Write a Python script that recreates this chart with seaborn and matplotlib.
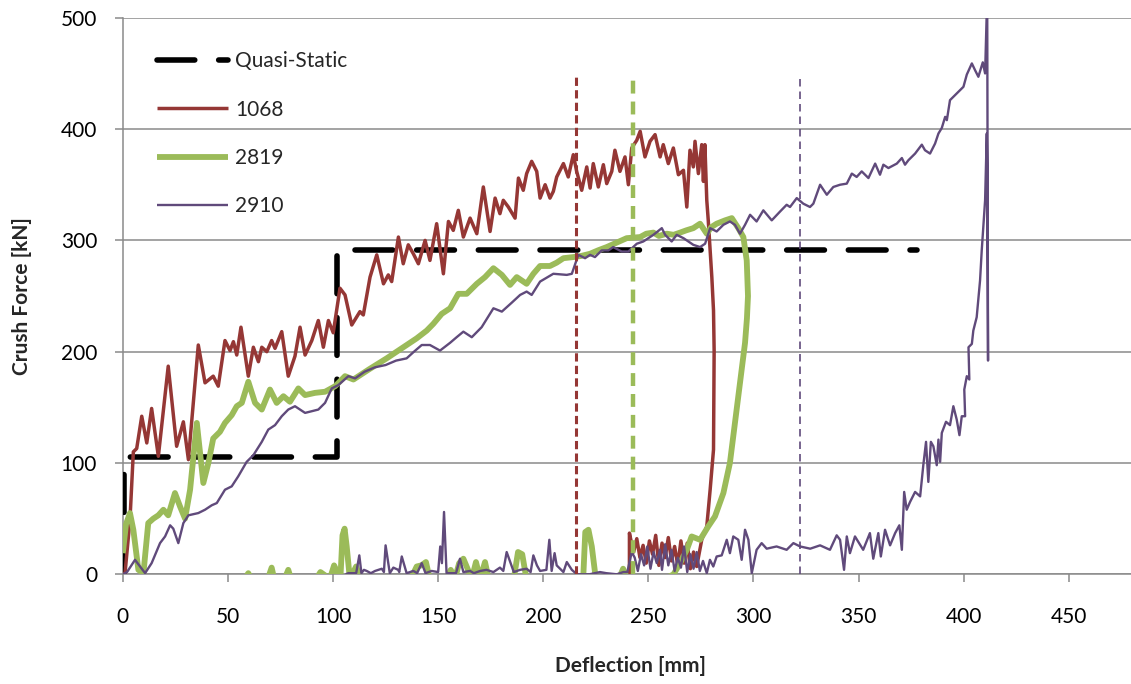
import numpy as np
import pandas as pd
import matplotlib
matplotlib.use("Agg")
import matplotlib.pyplot as plt
import seaborn as sns

# ---------------- data ----------------
quasi_x = [0.4, 0.4, 102.0, 102.0, 378.0]
quasi_y = [0, 105, 105, 291, 291]

r1068_x = [0, 1, 3.4, 5, 6.6, 9, 11.4, 13.7, 16.9, 21.6, 25.6, 28.8, 31.2, 35.9, 39.1, 43, 45.4,
           48.6, 51, 52.6, 54.2, 56.2, 59.7, 62.1, 64.5, 66.1, 68.5, 70.8, 72.4, 75.6, 78.7, 81.9,
           84.3, 86.7, 89.9, 93, 95.4, 97.8, 100.1, 103.3, 105.7, 108.9, 112.8, 114.4, 117.6, 120.8,
           124, 126.3, 127.9, 131.1, 133.4, 135.8, 138.2, 140.6, 143.8, 146.1, 149.3, 152.5, 154.9,
           157.2, 159.6, 162, 165.2, 168.4, 171.5, 174.7, 177.1, 179.4, 181, 183.4, 186.6, 188.2,
           190.5, 192.1, 194.5, 196.9, 198.5, 200.9, 203.2, 204.8, 206.4, 209.6, 211.9, 214.3, 215.9,
           218.3, 220.7, 222.3, 223.8, 226.2, 228.6, 230.2, 232.6, 234.1, 236.5, 238.9, 240.5, 242.1,
           244.5, 246.1, 248.4, 250.8, 253.2, 255.6, 257.1, 259.5, 261.9, 264.3, 266.7, 268.3, 269.8,
           271.4, 272.2, 273.8, 275.4, 276.2, 276.9, 277.8, 278.5, 280.2, 281, 281.3, 281, 279.4,
           277.8, 275.4, 273, 271.5, 270, 268.5, 267, 265.5, 264, 262.5, 261, 259.5, 258, 256.5,
           255, 253.5, 252, 250.5, 249, 247.5, 246, 244.5, 243, 242, 241, 241]
r1068_y = [0, 0, 49, 110, 113, 142, 118, 149, 106, 187, 115, 137, 103, 206, 172, 178, 169,
           210, 201, 209, 197, 222, 178, 204, 191, 204, 200, 210, 203, 218, 178, 196,
           222, 197, 210, 228, 204, 228, 217, 257, 251, 224, 236, 233, 267, 287,
           261, 269, 263, 303, 279, 296, 288, 279, 300, 282, 315, 270, 317,
           309, 327, 303, 320, 306, 348, 308, 338, 324, 336, 330, 320, 356,
           345, 360, 371, 362, 338, 350, 338, 344, 357, 369, 357, 377, 362,
           345, 366, 347, 369, 348, 368, 351, 362, 381, 362, 375, 350, 383,
           390, 398, 375, 389, 395, 375, 386, 369, 383, 359, 363, 330, 381,
           366, 389, 360, 386, 353, 386, 336, 318, 267, 237, 201, 112, 76,
           43, 31, 7, 20, 5, 28, 10, 30, 8, 25, 12, 33, 15, 28,
           8, 35, 18, 30, 10, 26, 15, 32, 20, 28, 37, 0]

g2819_x = [0, 1.5, 3.4, 5, 7.4, 9.8, 12.1, 14.5, 16.9, 19.3, 21.6, 24.8, 27.2, 29.6, 32, 35.2,
           38.3, 40.7, 43, 46.2, 48.6, 51.8, 54.2, 56.6, 59.7, 62.9, 66.1, 70, 73.2, 76.4, 79.5,
           83.5, 86.7, 91.4, 96.2, 101, 105.7, 109.7, 117, 125.5, 133.4, 139.8, 144.6, 147.7, 151.7,
           155.7, 159.6, 163.6, 168.4, 172.3, 176.3, 180.3, 184.2, 187.4, 192.1, 195.3, 198.5, 203.2,
           206.4, 209.6, 214.3, 218, 222.3, 226, 230.2, 235, 239.7, 246.1, 249, 252.4, 255, 258.8,
           262, 265.1, 268, 271.4, 274.6, 277.8, 280, 282.5, 286.5, 289.7, 292.8, 295.2, 296.8,
           297.4, 296.9, 296, 293.6, 291.2, 288.8, 285.7, 281.7, 278.5, 274.6, 270.6, 268.3, 265.1,
           262, 258, 245, 240, 238, 236, 225, 223.1, 221.5, 220, 219, 192, 190, 188, 186, 174,
           172.3, 170, 168, 166, 162, 160, 158, 156, 154, 146, 144.2, 142, 139.8, 137, 113, 111,
           108, 106.5, 105.5, 104.5, 103.5, 100.5, 98.5, 94, 92, 80, 78.7, 77, 72, 70.8, 69, 61,
           59.7, 58, 50]
g2819_y = [19, 45, 55, 40, 4, 1, 46, 50, 53, 58, 53, 73, 61, 50, 76, 136,
           82, 100, 122, 128, 136, 143, 151, 154, 173, 154, 148, 166, 154, 160, 155,
           167, 161, 163, 164, 169, 178, 175, 184, 194, 204, 212, 219, 225, 234,
           239, 252, 252, 261, 267, 275, 269, 260, 267, 261, 270, 277, 277,
           280, 284, 285, 286, 288, 291, 294, 298, 302, 303, 306, 307, 304, 306,
           305, 307, 309, 311, 315, 306, 312, 315, 318, 320, 311, 303, 282,
           250, 230, 208, 172, 136, 100, 73, 52, 43, 31, 34, 22, 10,
           0, -4, -4, -4, 5, -4, -4, 25, 40, 38, -4, -4, 18, 20, -4, -4,
           11, -4, 11, -4, 14, 10, -4, 4, -4, -4, 11, 8, 7, -4, -4, 7,
           -4, 25, 41, 35, -4, 8, -4, 2, -4, -4, 4, -4, -4, 6, -4, -4,
           1, -4, -4]

p2910_x = [0, 2, 5.8, 8.2, 10.6, 13.7, 17.7, 20.1, 22.5, 24, 26.4, 28.8, 31.2, 35.9, 39.1, 42.3,
           44.7, 48.6, 51.8, 54.9, 58.9, 62.1, 66.1, 69.2, 72.4, 75.6, 78.7, 81.9, 84.3, 86.7, 93,
           96.2, 99.4, 102.5, 107.3, 110.5, 115, 120, 125, 130, 135, 138.5, 142.2, 146.1, 150.9,
           155.7, 158.8, 162, 166, 170.7, 176.3, 180.3, 185, 189, 192.1, 194.5, 198.5, 204.8, 211.2,
           213.6, 216.7, 219.9, 222.3, 224.6, 227.8, 231, 233.3, 237.3, 240.5, 244.5, 247.6, 252.4,
           256.4, 258, 261.1, 263.5, 266.7, 271.4, 274.6, 277, 279.4, 282.5, 285.7, 288.8, 291.2,
           293.6, 296, 298.4, 301.5, 304.7, 308.7, 312.7, 315.8, 317.4, 320.6, 323.7, 326.9, 328.5,
           331.7, 334.9, 338, 341.2, 344.4, 346.8, 349.1, 351.5, 354.7, 357.9, 360.2, 361.8, 364.2,
           368.2, 370.6, 372.1, 373.7, 376.9, 380.1, 381.6, 384, 386.4, 388, 389.6, 391.2, 392,
           393.5, 396.7, 398.3, 399.9, 401.5, 403.9, 405.4, 407, 409.1, 410.2, 411.2, 411.6, 411.3,
           411, 410.2, 408.6, 407.8, 406.2, 404.6, 403.9, 402.3, 402.7, 401.5, 400.3, 400.7, 399.1,
           398, 396.7, 395.1, 393.5, 391.6, 389.6, 388.8, 388, 387.2, 385.6, 384.4, 383.2, 382.1,
           380.8, 379.3, 376.9, 374.5, 372.9, 371.7, 370.6, 369.4, 367.4, 365, 362.6, 360.6, 359.4,
           357, 355.4, 352.2, 348.3, 345.9, 344.4, 343.1, 341.2, 339.6, 336.4, 331.7, 327, 322.2,
           319, 315.8, 311, 306.3, 303.9, 301.5, 299.2, 297.6, 296, 294.4, 292.8, 290.4, 288.8,
           287.3, 284.9, 282.5, 280.9, 279.3, 277.8, 276, 274.5, 273, 271.5, 270, 268.5, 267,
           265.5, 264, 262.5, 261, 259.5, 258, 256.5, 255.5, 254, 252.5, 251, 249.5, 248, 246.5,
           245, 243.5, 242.1, 240, 238.1, 235, 230, 227, 222, 216, 213.6, 211.2, 209.6, 206.4,
           205.4, 204, 202.9, 201.5, 198.5, 197, 195.3, 194, 192.1, 189, 186, 182.6, 181, 179.4,
           176.3, 173, 170, 167, 165.2, 162, 160.4, 158.5, 154, 152.8, 151.8, 151, 150, 146.9,
           144, 142.2, 140, 138.2, 135, 132.7, 131.5, 131, 128.7, 127, 125, 124.2, 123.2, 120,
           118, 116, 114.7, 113.5, 112.5, 111, 107.3, 106]
p2910_y = [0, 2, 13, 7, 1, 10, 28, 34, 44, 41, 28, 46, 53, 55, 58, 62,
           64, 76, 79, 88, 101, 107, 119, 130, 134, 142, 148, 151, 148, 145, 148,
           154, 167, 170, 178, 176, 182, 186, 188, 192, 194, 200, 206, 206, 201,
           208, 213, 218, 213, 222, 239, 236, 244, 251, 254, 251, 263, 270, 269,
           270, 287, 284, 287, 285, 291, 291, 294, 290, 290, 297, 299, 305,
           311, 305, 299, 305, 302, 296, 294, 297, 311, 308, 314, 317, 314,
           306, 314, 323, 317, 327, 318, 326, 332, 330, 338, 333, 330, 333,
           350, 341, 348, 350, 351, 360, 357, 362, 356, 369, 359, 368, 365,
           369, 374, 368, 372, 378, 386, 381, 378, 387, 396, 401, 411, 408,
           426, 432, 435, 438, 449, 459, 453, 447, 460, 450, 520, 192, 330,
           396, 336, 291, 264, 231, 219, 207, 204, 175, 178, 166, 142, 142,
           125, 139, 151, 134, 137, 127, 101, 121, 98, 115, 119, 83, 119,
           98, 70, 74, 65, 58, 74, 22, 44, 37, 26, 40, 16, 37,
           14, 37, 22, 34, 19, 34, 4, 31, 35, 22, 26, 23, 25,
           28, 22, 25, 23, 28, 22, 1, 31, 40, 13, 31, 34, 19,
           31, 17, 16, 7, 13, 1, 12, 3, 20, 5, 18, 2, 25,
           6, 15, 3, 22, 8, 27, 4, 22, 10, 20, 5, 25, 8, 18,
           3, 15, 20, 2, 2, 0, 1, 2, 0, 0, 4, 11, 2, 8,
           19, 3, 31, 4, 3, 8, 17, 2, 5, 4, 2, 20, 3, 6,
           2, 4, 3, 1, 3, 2, 14, 1, 1, 56, 10, 25, 2, 3,
           1, 10, 1, 3, 1, 16, 2, 4, 6, 1, 26, 2, 5, 3,
           1, 3, 4, 1, 17, 1, 1, 0]

vline_x = [215.6, 242.9, 322.2]
vline_top = [449, 447, 447]

series_labels = ["Quasi-Static", "1068", "2819", "2910"]
x_ticks = [0, 50, 100, 150, 200, 250, 300, 350, 400, 450]
y_ticks = [0, 100, 200, 300, 400, 500]

# ---------------- style ----------------
sns.set_style("white")
plt.rcParams['font.family'] = ['Lato', 'DejaVu Sans']

C_BLACK = "#000000"
C_RED = "#953735"
C_GREEN = "#9BBB59"
C_PURPLE = "#604A7B"
C_GRID = "#8A8A8A"
FS = 15

fig = plt.figure(figsize=(11.31, 6.84), dpi=100)
ax = fig.add_axes([0.1086, 0.1604, 0.9293, 0.8136])

def draw(x, y, color, lw, z, ls=None, cap="butt"):
    df = pd.DataFrame({"x": x, "y": y})
    sns.lineplot(data=df, x="x", y="y", sort=False, estimator=None, color=color,
                 linewidth=lw, ax=ax, legend=False, zorder=z)
    ln = ax.lines[-1]
    if ls is not None:
        ln.set_linestyle(ls)
    ln.set_dash_capstyle(cap)
    ln.set_solid_capstyle("butt")
    ln.set_solid_joinstyle("round")
    return ln

h_q = draw(quasi_x, quasi_y, C_BLACK, 4.0, 3, ls=(0, (6.8, 4.3)), cap="round")
h_r = draw(r1068_x, r1068_y, C_RED, 2.5, 4)
h_g = draw(g2819_x, g2819_y, C_GREEN, 4.2, 5)
h_p = draw(p2910_x, p2910_y, C_PURPLE, 1.7, 6)

vl_styles = [(C_RED, 2.2, (0, (2.7, 1.4))),
             (C_GREEN, 3.2, (0, (2.9, 1.8))),
             (C_PURPLE, 1.2, (0, (4.5, 3.0)))]
for vx, vt, (c, lw, ls) in zip(vline_x, vline_top, vl_styles):
    draw([vx, vx], [0, vt], c, lw, 7, ls=ls)

ax.set_xlim(0, 500)
ax.set_ylim(0, 500)
ax.set_xticks(x_ticks)
ax.set_yticks(y_ticks)
ax.set_xticklabels([str(t) for t in x_ticks], fontsize=FS)
ax.set_yticklabels([str(t) for t in y_ticks], fontsize=FS)

ax.grid(False)
ax.yaxis.grid(True, color=C_GRID, linewidth=1.1)
ax.set_axisbelow(True)
for s in ["top", "right"]:
    ax.spines[s].set_visible(False)
for s in ["left", "bottom"]:
    ax.spines[s].set_color(C_GRID)
    ax.spines[s].set_linewidth(1.1)

ax.tick_params(axis="both", which="both", direction="out", length=5.5, width=1.1,
               color=C_GRID, labelcolor="black")
ax.tick_params(axis="y", pad=13, left=True)
ax.tick_params(axis="x", pad=18, bottom=True)

ax.set_xlabel("Deflection [mm]", fontsize=FS, fontweight="bold")
ax.set_ylabel("Crush Force [kN]", fontsize=FS, fontweight="bold")
ax.xaxis.label.set_va("center")
ax.yaxis.label.set_va("center")
ax.xaxis.set_label_coords(0.4826, -0.165)
ax.yaxis.set_label_coords(-0.0959, 0.5)

leg = ax.legend([h_q, h_r, h_g, h_p], series_labels, loc="upper left",
                bbox_to_anchor=(0.0325, 0.94), frameon=False, fontsize=FS,
                handlelength=3.4, handletextpad=0.35, labelspacing=1.36,
                borderpad=0, borderaxespad=0)

fig.savefig("out.png", dpi=100)
